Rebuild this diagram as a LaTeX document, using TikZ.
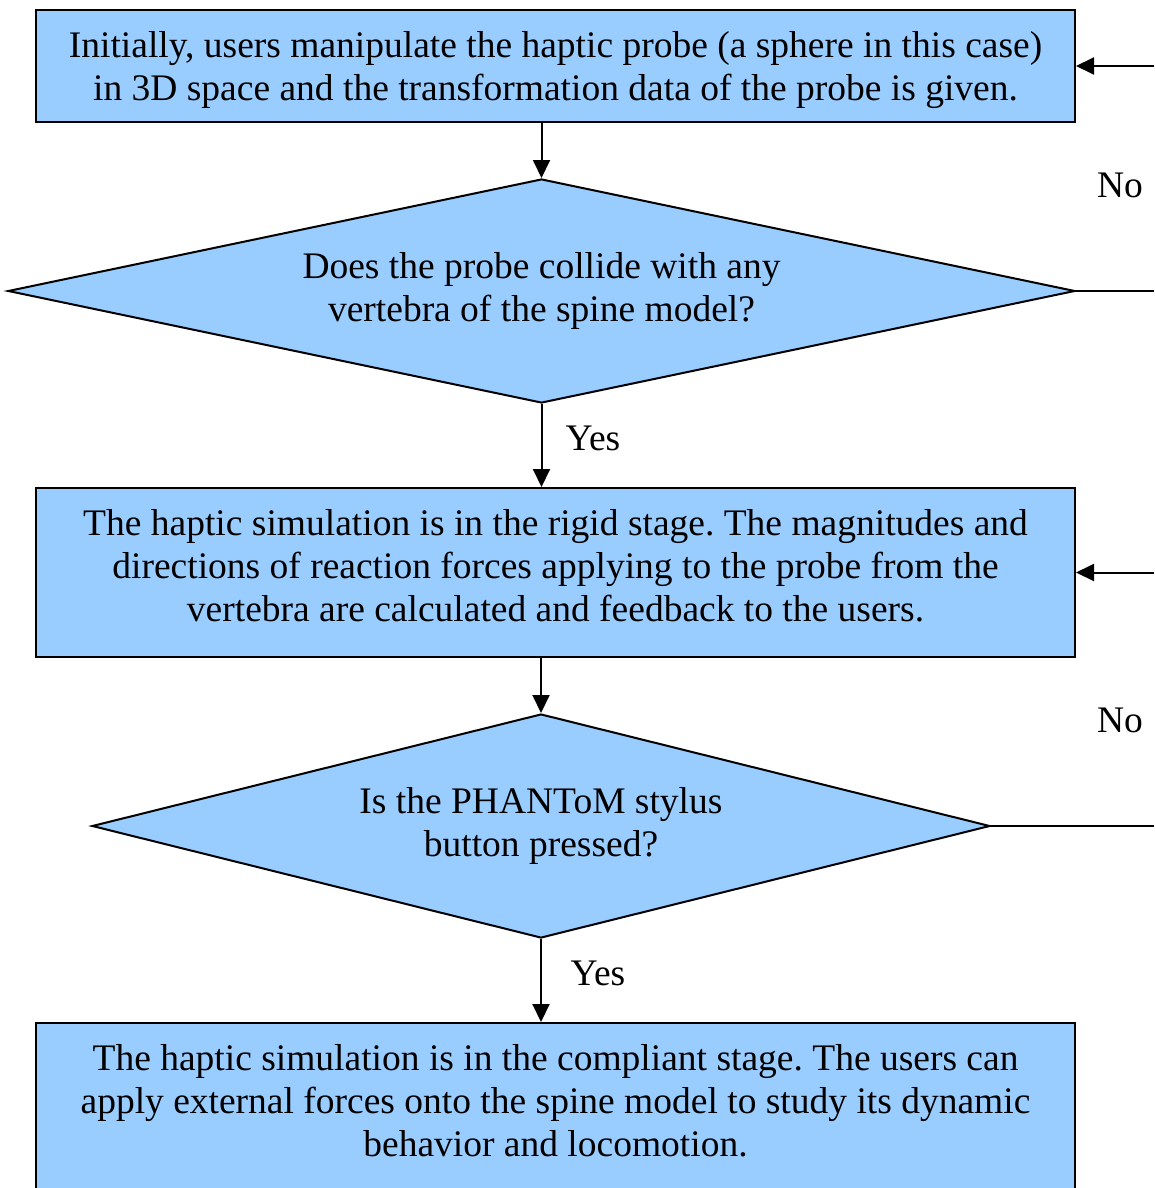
\documentclass[tikz,border=0pt]{standalone}
\usepackage{fontspec}
\setmainfont{Liberation Serif}
\usetikzlibrary{shapes.geometric,arrows.meta}
\frenchspacing

\definecolor{stageblue}{HTML}{99CCFF}

\tikzset{
  stage/.style={draw, fill=stageblue, line width=2pt, minimum width=1039pt, inner sep=0pt},
  query/.style={diamond, draw, fill=stageblue, line width=2pt, align=center, inner sep=0pt, aspect=4},
  flow/.style={line width=2pt, -{Triangle[length=18pt,width=17pt]}},
  wire/.style={line width=2pt},
  words/.style={align=center, inner sep=0pt},
  answer/.style={inner sep=0pt},
}

\begin{document}
\begin{tikzpicture}[x=1pt, y=-1pt, font=\fontsize{37.5}{43}\selectfont]
  \useasboundingbox (0,0) rectangle (1154,1188);

  \path (1154,0) coordinate (rim);

  \node[stage, minimum height=112pt] (probe) at (555.5,66) {};
  \node[words] (probetext) at (555.5,70.5)
    {Initially, users manipulate the haptic probe (a sphere in this case)\\
     in 3D space and the transformation data of the probe is given.};
  \node[query, minimum width=1067pt, minimum height=224pt] (collide) at (541.5,291)
    {Does the probe collide with any\\vertebra of the spine model?};
  \node[stage, minimum height=169pt] (rigid) at (555.5,572.5) {};
  \node[words] (rigidtext) at (555.5,566)
    {The haptic simulation is in the rigid stage. The magnitudes and\\
     directions of reaction forces applying to the probe from the\\
     vertebra are calculated and feedback to the users.};
  \node[query, minimum width=898pt, minimum height=224pt] (button) at (541,826)
    {Is the PHANToM stylus\\button pressed?};
  \node[stage, minimum height=200pt, anchor=north] (compliant) at (555.5,1022) {};
  \node[words] (complianttext) at (555.5,1101)
    {The haptic simulation is in the compliant stage. The users can\\
     apply external forces onto the spine model to study its dynamic\\
     behavior and locomotion.};

  % main flow
  \draw[flow] (probe.south -| collide.north) -- (collide.north);
  \draw[flow] (collide.south) -- (collide.south |- rigid.north);
  \draw[flow] (rigid.south -| button.north) -- (button.north);
  \draw[flow] (button.south) -- (button.south |- compliant.north);

  % back to the top
  \draw[wire] (collide.east) -- (collide.east -| rim);
  \draw[flow] (probe.east -| rim) -- (probe.east);
  \draw[wire] (button.east) -- (button.east -| rim);
  \draw[flow] (rigid.east -| rim) -- (rigid.east);

  \node[answer] (yes1) at (593,438) {Yes};
  \node[answer] (yes2) at (598,973) {Yes};
  \node[answer] (no1) at (1120,185) {No};
  \node[answer] (no2) at (1120,720) {No};
\end{tikzpicture}
\end{document}
